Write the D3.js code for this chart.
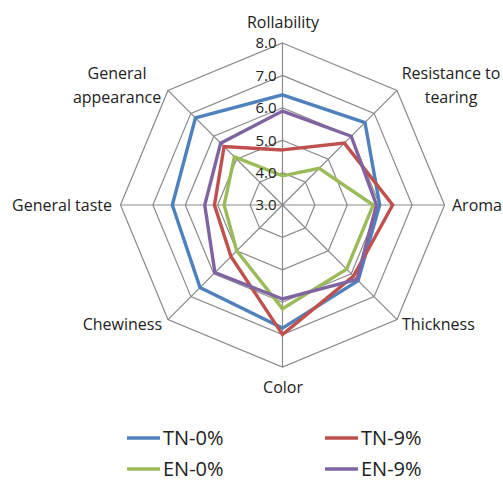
<!DOCTYPE html>
<html>
<head>
<meta charset="utf-8">
<script src="https://cdn.jsdelivr.net/npm/d3@7"></script>
<style>
  html, body { margin: 0; padding: 0; background: #fff; }
  svg { display: block; font-family: "Open Sans", "Liberation Sans", sans-serif; }
</style>
</head>
<body>
<svg id="chart" width="503" height="483"></svg>
<script>
// Sensory attributes, clockwise from the top
const attributes = ["Rollability", "Resistance to tearing", "Aroma", "Thickness",
                    "Color", "Chewiness", "General taste", "General appearance"];
const seriesNames = ["TN-0%", "TN-9%", "EN-0%", "EN-9%"];
const tn0 = [6.4, 6.6, 6.0, 6.3, 6.8, 6.6, 6.4, 6.8];
const tn9 = [4.7, 5.7, 6.4, 6.1, 7.0, 5.25, 5.1, 5.55];
const en0 = [3.9, 4.6, 5.8, 5.8, 6.2, 5.0, 4.8, 5.1];
const en9 = [5.9, 6.0, 5.9, 6.25, 5.9, 5.95, 5.4, 5.7];
const tickValues = [3.0, 4.0, 5.0, 6.0, 7.0, 8.0];
const colors = ["#4F81BD", "#C0504D", "#9BBB59", "#8064A2"];

const series = [tn0, tn9, en0, en9].map((v, i) => ({ name: seriesNames[i], values: v, color: colors[i] }));

const svg = d3.select("#chart");
const cx = 282.5, cy = 205, R = 162;

const r = d3.scaleLinear().domain([3, 8]).range([0, R]);
const angle = d3.scaleLinear().domain([0, attributes.length]).range([0, 2 * Math.PI]);
const pt = (i, v) => [cx + r(v) * Math.sin(angle(i)), cy - r(v) * Math.cos(angle(i))];

const grid = svg.append("g").attr("stroke", "#8a8a8a").attr("stroke-width", 1.2).attr("fill", "none");

// Octagonal rings
tickValues.slice(1).forEach(t => {
  grid.append("path")
    .attr("d", d3.line()(attributes.map((_, i) => pt(i, t))) + "Z");
});
// Spokes
attributes.forEach((_, i) => {
  const [x, y] = pt(i, 8);
  grid.append("line").attr("x1", cx).attr("y1", cy).attr("x2", x).attr("y2", y);
});

// Series polygons
const lineGen = d3.line();
series.forEach(s => {
  svg.append("path")
    .attr("d", lineGen(s.values.map((v, i) => pt(i, v))) + "Z")
    .attr("fill", "none")
    .attr("stroke", s.color)
    .attr("stroke-width", 3.4)
    .attr("stroke-linejoin", "miter");
});

// Tick labels along the top spoke
svg.append("g").selectAll("text").data(tickValues).join("text")
  .attr("x", cx - 6)
  .attr("y", d => cy - r(d))
  .attr("dy", "0.36em")
  .attr("text-anchor", "end")
  .attr("font-size", 15)
  .attr("fill", "#222")
  .text(d => d.toFixed(1));

// Attribute labels
const labelSpec = [
  { lines: ["Rollability"], x: 283, y: 22, anchor: "middle" },
  { lines: ["Resistance to", "tearing"], x: 451, y: 73, anchor: "middle" },
  { lines: ["Aroma"], x: 452, y: 205, anchor: "start" },
  { lines: ["Thickness"], x: 402, y: 324, anchor: "start" },
  { lines: ["Color"], x: 283, y: 387, anchor: "middle" },
  { lines: ["Chewiness"], x: 162, y: 324, anchor: "end" },
  { lines: ["General taste"], x: 112, y: 205, anchor: "end" },
  { lines: ["General", "appearance"], x: 117, y: 73, anchor: "middle" }
];
const labels = svg.append("g").attr("font-size", 16).attr("fill", "#222");
labelSpec.forEach(l => {
  const t = labels.append("text").attr("text-anchor", l.anchor);
  l.lines.forEach((line, k) => {
    t.append("tspan").attr("x", l.x).attr("y", l.y + k * 24).attr("dy", "0.36em").text(line);
  });
});

// Legend
const legendPos = [[127, 438], [325, 438], [127, 469], [325, 469]];
const legend = svg.append("g");
series.forEach((s, i) => {
  const [x, y] = legendPos[i];
  legend.append("line").attr("x1", x).attr("x2", x + 33).attr("y1", y).attr("y2", y)
    .attr("stroke", s.color).attr("stroke-width", 3.4);
  legend.append("text").attr("x", x + 36).attr("y", y).attr("dy", "0.36em")
    .attr("font-size", 20).attr("fill", "#222").text(s.name);
});
</script>
</body>
</html>
